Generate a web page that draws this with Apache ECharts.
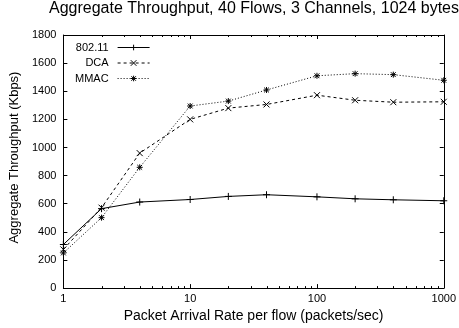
<!DOCTYPE html>
<html>
<head>
<meta charset="utf-8">
<style>
  html, body { margin: 0; padding: 0; background: #fff; }
  #chart { width: 459px; height: 328px; }
</style>
<script src="https://cdn.jsdelivr.net/npm/echarts@6/dist/echarts.min.js"></script>
</head>
<body>
<div id="chart"></div>
<script>
// Packet arrival rates per flow (packets/sec)
const rates = [1, 2, 4, 10, 20, 40, 100, 200, 400, 1000];
// Aggregate throughput (Kbps) per protocol
const thr80211 = [310, 565, 612, 630, 652, 664, 649, 635, 628, 621];
const thrDCA   = [275, 572, 960, 1200, 1280, 1306, 1372, 1336, 1322, 1325];
const thrMMAC  = [250, 501, 859, 1295, 1330, 1409, 1510, 1525, 1518, 1478];
// Minor log ticks between decades
const minorTicks = [2, 3, 4, 5, 6, 7, 8, 9, 20, 30, 40, 50, 60, 70, 80, 90, 200, 300, 400, 500, 600, 700, 800, 900];

const FONT = 'Liberation Sans, Arial, sans-serif';
const pair = (ys) => rates.map((x, i) => [x, ys[i]]);
const plain = (v) => String(v);

const SYM_PLUS  = 'path://M0,5L10,5M5,0L5,10';
const SYM_CROSS = 'path://M0,0L10,10M10,0L0,10';
const SYM_STAR  = 'path://M0,5L10,5M5,0L5,10M1,1L9,9M9,1L1,9';

const chart = echarts.init(document.getElementById('chart'), null, { renderer: 'canvas' });

const axisLine = { show: true, onZero: false, lineStyle: { color: '#000', width: 1 } };
const tick = { show: true, inside: true, length: 4, lineStyle: { color: '#000', width: 1 } };

chart.setOption({
  animation: false,
  backgroundColor: '#fff',
  title: {
    text: 'Aggregate Throughput, 40 Flows, 3 Channels, 1024 bytes',
    left: 254, textAlign: 'center', top: 1, padding: 0,
    textStyle: { fontFamily: FONT, fontSize: 16, fontWeight: 'normal', color: '#000' }
  },
  legend: {
    data: ['802.11', 'DCA', 'MMAC'],
    orient: 'vertical', align: 'right',
    left: 75, top: 42, padding: 0,
    itemWidth: 32, itemHeight: 7, itemGap: 4.5,
    lineStyle: { width: 1 },
    itemStyle: { borderWidth: 1 },
    textStyle: { fontFamily: FONT, fontSize: 11, color: '#000', padding: [0, 4, 0, 0] }
  },
  grid: { left: 63, right: 12, top: 35, bottom: 38, containLabel: false },
  xAxis: [{
    type: 'log', logBase: 10, min: 1, max: 1000,
    name: 'Packet Arrival Rate per flow (packets/sec)',
    nameLocation: 'middle', nameGap: 18,
    nameTextStyle: { fontFamily: FONT, fontSize: 14, color: '#000' },
    axisLine, axisTick: tick,
    axisLabel: { fontFamily: FONT, fontSize: 11, color: '#000', margin: 5, formatter: plain },
    splitLine: { show: false }
  }, {
    type: 'log', logBase: 10, min: 1, max: 1000, position: 'top',
    axisLine, axisTick: tick,
    axisLabel: { show: false },
    splitLine: { show: false }
  }],
  yAxis: [{
    type: 'value', min: 0, max: 1800, interval: 200,
    name: 'Aggregate Throughput (Kbps)',
    nameLocation: 'middle', nameGap: 33,
    nameTextStyle: { fontFamily: FONT, fontSize: 13, color: '#000', padding: [0, 0, 0, 8] },
    axisLine, axisTick: tick,
    axisLabel: { fontFamily: FONT, fontSize: 11, color: '#000', margin: 7, formatter: plain },
    splitLine: { show: false }
  }, {
    type: 'value', min: 0, max: 1800, interval: 200, position: 'right',
    axisLine, axisTick: tick,
    axisLabel: { show: false },
    splitLine: { show: false }
  }],
  series: [
    {
      name: '802.11', type: 'line', data: pair(thr80211),
      symbol: SYM_PLUS, symbolSize: 7,
      lineStyle: { color: '#000', width: 1, type: 'solid' },
      itemStyle: { color: '#000', borderColor: '#000', borderWidth: 1 }
    },
    {
      name: 'DCA', type: 'line', data: pair(thrDCA),
      symbol: SYM_CROSS, symbolSize: 6,
      lineStyle: { color: '#000', width: 1, type: [3, 3] },
      itemStyle: { color: '#000', borderColor: '#000', borderWidth: 1 }
    },
    {
      name: 'MMAC', type: 'line', data: pair(thrMMAC),
      symbol: SYM_STAR, symbolSize: 6,
      lineStyle: { color: '#000', width: 1, type: [1, 2] },
      itemStyle: { color: '#000', borderColor: '#000', borderWidth: 1 }
    },
    {
      // minor log ticks on the bottom and top frame edges
      name: 'minor', type: 'custom', silent: true, clip: false,
      data: minorTicks.map(v => [v]),
      renderItem: (params, api) => {
        const v = api.value(0);
        const b = api.coord([v, 0]);
        const t = api.coord([v, 1800]);
        const x = Math.round(b[0]) + 0.5;
        const st = { stroke: '#000', lineWidth: 1 };
        return {
          type: 'group',
          children: [
            { type: 'line', shape: { x1: x, y1: b[1], x2: x, y2: b[1] - 2 }, style: st },
            { type: 'line', shape: { x1: x, y1: t[1], x2: x, y2: t[1] + 2 }, style: st }
          ]
        };
      }
    }
  ]
});
</script>
</body>
</html>
